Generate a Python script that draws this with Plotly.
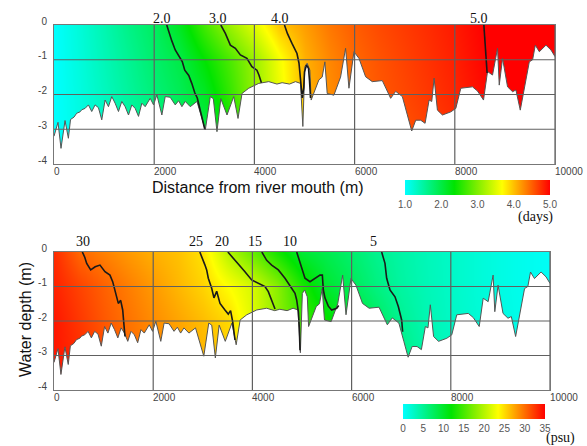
import plotly.graph_objects as go

# ---------------- data ----------------
x_nodes = [0, 500, 1000, 1500, 2000, 2500, 3000, 3500, 4000, 4500, 5000,
           5500, 6000, 6500, 7000, 7500, 8000, 8500, 9000, 9500, 10000]
depth_nodes = [0, -1, -2, -3, -4]

# residence time (days), rows = depth_nodes
days_z = [
    [1.0, 1.2, 1.42, 1.65, 1.85, 2.18, 2.69, 3.13, 3.52, 3.97, 4.18, 4.38, 4.52, 4.62, 4.7, 4.78, 4.87, 4.98, 5.1, 5.2, 5.3],
    [1.0, 1.18, 1.38, 1.58, 1.79, 1.98, 2.35, 2.72, 3.13, 3.62, 4.08, 4.3, 4.46, 4.57, 4.66, 4.75, 4.84, 4.96, 5.08, 5.18, 5.28],
    [1.0, 1.16, 1.34, 1.53, 1.72, 1.9, 2.15, 2.6, 3.1, 3.57, 4.05, 4.27, 4.43, 4.55, 4.63, 4.72, 4.81, 4.93, 5.05, 5.15, 5.25],
    [1.0, 1.14, 1.3, 1.48, 1.65, 1.83, 1.99, 2.4, 2.9, 3.3, 3.7, 4.15, 4.38, 4.5, 4.58, 4.67, 4.76, 4.9, 5.0, 5.1, 5.2],
    [1.0, 1.12, 1.28, 1.45, 1.62, 1.8, 1.95, 2.35, 2.8, 3.2, 3.6, 4.05, 4.3, 4.45, 4.53, 4.62, 4.72, 4.85, 4.95, 5.05, 5.15],
]

# salinity (psu), rows = depth_nodes
psu_z = [
    [33.0, 30.3, 29.1, 28.0, 27.0, 26.2, 24.7, 20.0, 16.4, 12.8, 9.5, 8.2, 6.8, 5.3, 4.2, 3.3, 2.6, 1.9, 1.3, 0.8, 0.4],
    [33.5, 32.0, 30.6, 29.3, 28.0, 26.7, 25.4, 23.5, 21.6, 18.0, 13.2, 9.7, 7.8, 6.0, 4.4, 3.4, 2.6, 1.9, 1.3, 0.8, 0.4],
    [34.0, 32.5, 31.0, 29.8, 28.6, 27.5, 26.4, 25.2, 22.0, 18.2, 14.7, 12.3, 9.9, 7.5, 5.05, 3.6, 2.7, 2.0, 1.4, 0.9, 0.5],
    [34.0, 33.0, 31.5, 30.2, 29.0, 27.8, 26.7, 25.5, 23.0, 19.0, 15.5, 13.0, 10.5, 8.0, 5.8, 4.0, 3.0, 2.2, 1.5, 1.0, 0.6],
    [34.0, 33.0, 31.8, 30.5, 29.3, 28.0, 27.0, 25.8, 23.5, 19.5, 16.0, 13.5, 11.0, 8.5, 6.2, 4.3, 3.2, 2.4, 1.6, 1.1, 0.7],
]

# river bed profile (distance m, depth m)
bathy_x = [0, 80, 140, 220, 287, 330, 400, 453, 520, 553, 620, 687, 753, 820, 887, 953,
           1020, 1087, 1153, 1220, 1287, 1353, 1420, 1487, 1553, 1620, 1687, 1753, 1820,
           1920, 1987, 2053, 2153, 2220, 2320, 2420, 2487, 2553, 2620, 2720, 2853, 3020,
           3120, 3180, 3253, 3330, 3453, 3587, 3673, 3753, 3887, 4087, 4287, 4450, 4553,
           4700, 4820, 4920, 4967, 5007, 5053, 5107, 5133, 5187, 5287, 5353, 5407, 5453,
           5587, 5720, 5820, 5887, 5987, 6087, 6220, 6353, 6553, 6687, 6720, 6820, 6953,
           7053, 7140, 7220, 7320, 7407, 7487, 7540, 7587, 7653, 7753, 7920, 8020, 8120,
           8353, 8453, 8573, 8653, 8753, 8853, 8887, 8953, 9053, 9153, 9220, 9307, 9420,
           9487, 9553, 9607, 9687, 9820, 9920, 10000]
bathy_y = [-3.2, -2.8, -3.55, -2.75, -3.26, -2.72, -2.65, -2.54, -2.5, -2.44, -2.4, -2.3, -2.49, -2.3, -2.38, -2.73,
           -2.16, -2.35, -2.06, -2.25, -2.49, -2.2, -2.35, -2.59, -2.3, -2.4, -2.63, -2.25, -2.35,
           -2.11, -2.3, -2.01, -2.59, -2.06, -2.08, -2.3, -2.18, -2.35, -2.2, -2.35, -2.2, -3.02,
           -2.06, -2.12, -3.07, -2.12, -2.59, -2.06, -2.69, -1.97, -1.82, -1.68, -1.63, -1.7, -1.66,
           -1.7, -1.63, -1.68, -2.92, -1.2, -1.1, -1.3, -2.16, -1.97, -1.58, -1.5, -1.06, -1.97,
           -2.02, -1.5, -0.67, -1.82, -0.77, -0.96, -1.49, -1.63, -1.6, -2.01, -2.11, -1.91, -2.06,
           -2.59, -3.05, -2.74, -2.74, -2.83, -2.16, -2.2, -1.53, -2.45, -2.59, -2.5, -2.4, -1.82,
           -1.78, -1.9, -2.16, -1.34, -1.44, -0.67, -1.73, -0.96, -1.78, -1.92, -1.87, -2.45, -1.54,
           -1.06, -1.0, -0.58, -0.77, -0.58, -0.72, -0.91]

# isolines of residence time (upper panel)
d2_x = [2250, 2290, 2350, 2420, 2520, 2560, 2610, 2690, 2750, 2810, 2860, 2910, 2960, 3010]
d2_y = [0, -0.2, -0.45, -0.72, -0.95, -1.05, -1.3, -1.45, -1.68, -1.95, -2.1, -2.4, -2.7, -3.0]
d3_x = [3330, 3420, 3520, 3620, 3720, 3850, 3950, 4050, 4090, 4140]
d3_y = [0, -0.24, -0.58, -0.67, -0.86, -0.96, -1.2, -1.3, -1.44, -1.66]
d4_x = [4600, 4660, 4750, 4850, 4890, 4920, 4945, 4955, 4985, 5000, 5040, 5080, 5100, 5120]
d4_y = [0, -0.25, -0.53, -0.82, -1.1, -1.5, -1.85, -2.1, -1.8, -1.35, -1.15, -1.25, -1.6, -2.1]
d5_x = [8580, 8600, 8615, 8630, 8645]
d5_y = [0, -0.43, -0.9, -1.15, -1.38]
days_label_x = [2160, 3280, 4520, 8480]
days_label_text = ["2.0", "3.0", "4.0", "5.0"]

# isohalines (lower panel)
s30_x = [571, 620, 659, 740, 830, 927, 1028, 1128, 1183, 1230, 1297, 1344, 1385, 1411, 1431]
s30_y = [0, -0.15, -0.33, -0.52, -0.43, -0.38, -0.57, -0.67, -0.86, -1.15, -1.49, -1.4, -1.68, -2.12, -2.45]
s25_x = [2940, 3000, 3044, 3078, 3111, 3179, 3225, 3280, 3347, 3447, 3514, 3560, 3602, 3649]
s25_y = [0, -0.2, -0.38, -0.52, -0.76, -1.05, -1.33, -1.14, -1.49, -1.68, -1.8, -1.7, -2.02, -2.55]
s20_x = [3505, 3600, 3716, 3850, 3985, 4120, 4254, 4321, 4389, 4456]
s20_y = [0, -0.15, -0.33, -0.57, -0.81, -0.91, -1.0, -1.15, -1.39, -1.65]
s15_x = [4190, 4288, 4389, 4523, 4657, 4758, 4859, 4893, 4926, 4946, 4960]
s15_y = [0, -0.24, -0.38, -0.52, -0.76, -1.0, -1.2, -1.39, -1.73, -2.2, -2.85]
s10_x = [4893, 4960, 5060, 5161, 5262, 5363, 5410, 5430, 5463, 5530, 5598, 5700, 5740]
s10_y = [0, -0.33, -0.76, -0.86, -0.76, -0.67, -0.67, -1.1, -1.33, -1.57, -1.68, -1.63, -1.55]
s5_x = [6606, 6640, 6673, 6707, 6774, 6875, 6942, 7009, 7029]
s5_y = [0, -0.15, -0.33, -0.76, -1.1, -1.3, -1.58, -1.97, -2.31]
psu_label_x = [585, 2863, 3387, 4052, 4748, 6445]
psu_label_text = ["30", "25", "20", "15", "10", "5"]

x_ticks = [0, 2000, 4000, 6000, 8000, 10000]
y_ticks = [0, -1, -2, -3, -4]
y_ticktext = ["0", "-1", "-2", "-3", "-4"]
x_grid = [2000, 4000, 6000, 8000, 10000]
y_grid = [-1, -2, -3]
days_cb_ticks = [1, 2, 3, 4, 5]
days_cb_text = ["1.0", "2.0", "3.0", "4.0", "5.0"]
psu_cb_ticks = [0, 5, 10, 15, 20, 25, 30, 35]

# ---------------- styling ----------------
W, H = 587, 446
cscale = [[0.0, "#00ffff"], [0.34, "#00e400"], [0.5, "#80ee00"],
          [0.67, "#ffff00"], [0.8, "#ff9900"], [1.0, "#ff0000"]]
SANS = "Liberation Sans, Arial, sans-serif"
SERIF = "Liberation Serif, Times New Roman, serif"
GRID = "#606060"

fig = go.Figure()


def add_panel(xa, ya, z, zmin, zmax, cb, contours):
    fig.add_trace(go.Heatmap(x=x_nodes, y=depth_nodes, z=z, zmin=zmin, zmax=zmax,
                             zsmooth="best", colorscale=cscale, colorbar=cb,
                             xaxis=xa, yaxis=ya, hoverinfo="skip"))
    fig.add_trace(go.Scatter(x=bathy_x + [10000, 0], y=bathy_y + [-4.6, -4.6],
                             fill="toself", fillcolor="white", mode="lines",
                             line=dict(width=0, color="white"),
                             xaxis=xa, yaxis=ya, hoverinfo="skip"))
    fig.add_trace(go.Scatter(x=bathy_x, y=bathy_y, mode="lines",
                             line=dict(width=1, color="#555555"),
                             xaxis=xa, yaxis=ya, hoverinfo="skip"))
    for cx, cy in contours:
        fig.add_trace(go.Scatter(x=cx, y=cy, mode="lines",
                                 line=dict(width=1.6, color="#1a1a1a"),
                                 xaxis=xa, yaxis=ya, hoverinfo="skip"))


days_cb = dict(orientation="h", xref="container", yref="container",
               x=405 / W, xanchor="left", y=1 - 180 / H, yanchor="top",
               len=145, lenmode="pixels", thickness=15, thicknessmode="pixels",
               outlinewidth=0, xpad=0, ypad=0, ticks="",
               tickvals=days_cb_ticks, ticktext=days_cb_text,
               tickfont=dict(family=SANS, size=10, color="#555555"))
psu_cb = dict(orientation="h", xref="container", yref="container",
              x=403 / W, xanchor="left", y=1 - 404 / H, yanchor="top",
              len=142, lenmode="pixels", thickness=15, thicknessmode="pixels",
              outlinewidth=0, xpad=0, ypad=0, ticks="",
              tickvals=psu_cb_ticks,
              tickfont=dict(family=SANS, size=10, color="#555555"))

add_panel("x", "y", days_z, 1, 5, days_cb,
          [(d2_x, d2_y), (d3_x, d3_y), (d4_x, d4_y), (d5_x, d5_y)])
add_panel("x2", "y2", psu_z, 0, 35, psu_cb,
          [(s30_x, s30_y), (s25_x, s25_y), (s20_x, s20_y), (s15_x, s15_y),
           (s10_x, s10_y), (s5_x, s5_y)])

shapes = []
annotations = []
for xr, yr in (("x", "y"), ("x2", "y2")):
    for gx in x_grid:
        shapes.append(dict(type="line", xref=xr, yref=yr, x0=gx, x1=gx, y0=-4, y1=0,
                           line=dict(color=GRID, width=1.2), layer="above"))
    for gy in y_grid:
        shapes.append(dict(type="line", xref=xr, yref=yr, x0=0, x1=10000, y0=gy, y1=gy,
                           line=dict(color=GRID, width=1.2), layer="above"))
    for t in x_ticks:
        annotations.append(dict(x=t, y=-4, xref=xr, yref=yr, text=str(t), showarrow=False,
                                xanchor="left", yanchor="top", yshift=0, xshift=-2,
                                font=dict(family=SANS, size=10, color="#444444")))

for lx, lt in zip(days_label_x, days_label_text):
    annotations.append(dict(x=lx, y=0, xref="x", yref="y", text=lt, showarrow=False,
                            xanchor="center", yanchor="bottom", yshift=-3,
                            font=dict(family=SERIF, size=14, color="#111111")))
for lx, lt in zip(psu_label_x, psu_label_text):
    annotations.append(dict(x=lx, y=0, xref="x2", yref="y2", text=lt, showarrow=False,
                            xanchor="center", yanchor="bottom", yshift=1,
                            font=dict(family=SERIF, size=14, color="#111111")))

annotations += [
    dict(x=258 / W, y=1 - 187 / H, xref="paper", yref="paper", text="Distance from river mouth (m)",
         showarrow=False, xanchor="center", yanchor="middle",
         font=dict(family=SANS, size=16, color="#111111")),
    dict(x=25 / W, y=1 - 320 / H, xref="paper", yref="paper", text="Water depth (m)",
         showarrow=False, xanchor="center", yanchor="middle", textangle=-90,
         font=dict(family=SANS, size=16, color="#111111")),
    dict(x=535 / W, y=1 - 217 / H, xref="paper", yref="paper", text="(days)",
         showarrow=False, xanchor="center", yanchor="middle", borderpad=0,
         font=dict(family=SERIF, size=14, color="#111111")),
    dict(x=560 / W, y=0, xref="paper", yref="paper", text="(psu)",
         showarrow=False, xanchor="center", yanchor="bottom", borderpad=0, yshift=-1,
         font=dict(family=SERIF, size=14, color="#111111")),
]

xcommon = dict(range=[0, 10000], showgrid=False, zeroline=False, showticklabels=False,
               ticks="", showline=True, linecolor="#777777", linewidth=1, mirror=True,
               layer="above traces", fixedrange=True)
ycommon = dict(range=[-4, 0], showgrid=False, zeroline=False, ticks="",
               tickvals=y_ticks, ticktext=y_ticktext, ticklabelshift=-4, ticklabelstandoff=4,
               tickfont=dict(family=SANS, size=10, color="#444444"),
               showline=True, linecolor="#777777", linewidth=1, mirror=True,
               layer="above traces", fixedrange=True)

fig.update_layout(
    width=W, height=H, margin=dict(l=0, r=0, t=0, b=0, autoexpand=False),
    paper_bgcolor="white", plot_bgcolor="white", showlegend=False,
    xaxis=dict(xcommon, domain=[54 / W, 555 / W], anchor="y"),
    yaxis=dict(ycommon, domain=[1 - 164 / H, 1 - 25 / H], anchor="x"),
    xaxis2=dict(xcommon, domain=[54 / W, 550 / W], anchor="y2"),
    yaxis2=dict(ycommon, domain=[1 - 390 / H, 1 - 252 / H], anchor="x2"),
    shapes=shapes, annotations=annotations,
)

fig.write_html("out.html", config={"displayModeBar": False},
               post_script="document.body.style.margin='0';document.body.style.overflow='hidden';")
